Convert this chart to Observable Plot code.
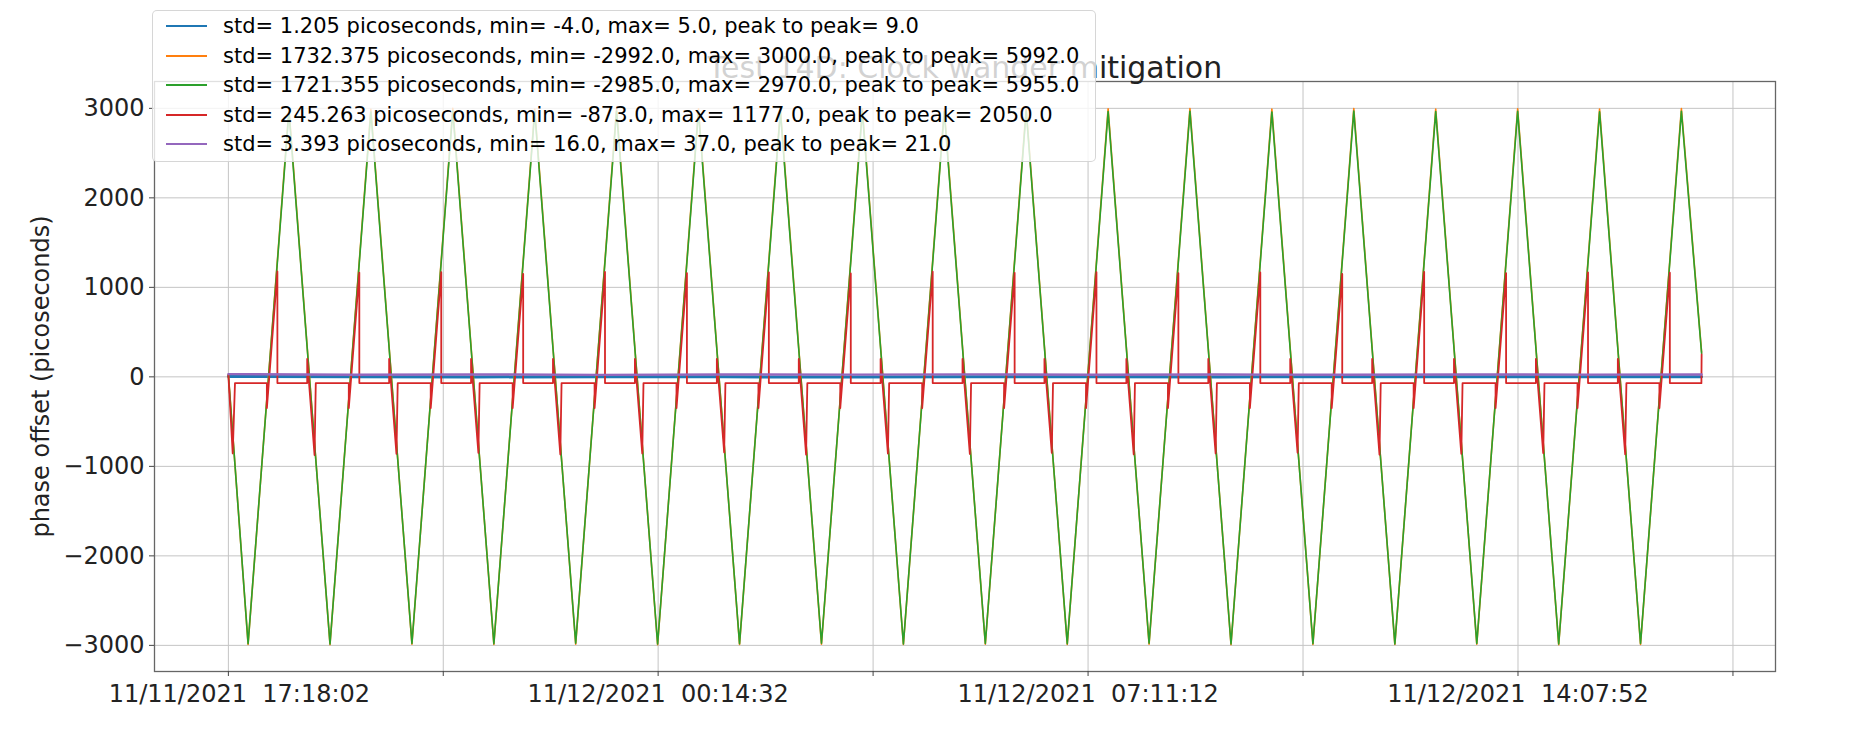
<!DOCTYPE html>
<html>
<head>
<meta charset="utf-8">
<script src="https://cdn.jsdelivr.net/npm/d3@7"></script>
<script src="https://cdn.jsdelivr.net/npm/@observablehq/plot@0.6"></script>
<style>
html, body { margin: 0; padding: 0; background: #fff; }
#wrap { position: relative; width: 1858px; height: 743px; font-family: "DejaVu Sans", sans-serif; }
svg text { white-space: pre; }
#legend { position: absolute; left: 152px; top: 10px; width: 944px; height: 152px; box-sizing: border-box;
  background: rgba(255,255,255,0.8); border: 1px solid rgba(204,204,204,0.8); border-radius: 5px; }
.row { position: absolute; left: 0; height: 30px; display: flex; align-items: center; font-size: 21px; color: #000; white-space: pre; }
.sw { display: inline-block; width: 41px; height: 2px; margin-left: 13px; margin-right: 16px; }
</style>
</head>
<body>
<div id="wrap"></div>
<script>
// ---- data (x = minutes since 11/11/2021 17:18:02) ----
const title = "Test 14D: Clock wander mitigation";
const yLabel = "phase offset (picoseconds)";
const yTicks = [-3000, -2000, -1000, 0, 1000, 2000, 3000];
const xMajorTicks = [0, 416.5, 833.17, 1249.83];
const xMajorLabels = ["11/11/2021  17:18:02", "11/12/2021  00:14:32", "11/12/2021  07:11:12", "11/12/2021  14:07:52"];
const xMinorTicks = [208.25, 624.83, 1041.5, 1458.17];

const seriesNames = [
  "std= 1.205 picoseconds, min= -4.0, max= 5.0, peak to peak= 9.0",
  "std= 1732.375 picoseconds, min= -2992.0, max= 3000.0, peak to peak= 5992.0",
  "std= 1721.355 picoseconds, min= -2985.0, max= 2970.0, peak to peak= 5955.0",
  "std= 245.263 picoseconds, min= -873.0, max= 1177.0, peak to peak= 2050.0",
  "std= 3.393 picoseconds, min= 16.0, max= 37.0, peak to peak= 21.0"
];
const seriesColors = ["#1f77b4", "#ff7f0e", "#2ca02c", "#d62728", "#9467bd"];
const seriesWidths = [3, 1.6, 1.6, 1.8, 2.4];

// blue
const blueT = [0, 120, 240, 360, 480, 600, 720, 840, 960, 1080, 1200, 1320, 1427.8];
const blueV = [5, 1, -1, 2, 0, -2, 1, 0, -1, 1, 0, 2, 0];

// green / orange (triangle wave vertices)
const waveT = [0, 19.1, 58.7, 98.5, 138.1, 177.9, 217.5, 257.3, 296.9, 336.6, 376.2, 416.0, 455.6, 495.4, 535.0,
  574.8, 614.4, 654.2, 693.8, 733.6, 773.2, 813.0, 852.6, 892.3, 931.9, 971.7, 1011.3, 1051.1, 1090.7,
  1130.5, 1170.1, 1209.9, 1249.5, 1289.3, 1328.9, 1368.6, 1408.2, 1427.8];
const greenV = [20, -2980, 2965, -2985, 2960, -2978, 2970, -2982, 2962, -2975, 2968, -2985, 2965, -2980, 2958,
  -2976, 2966, -2984, 2962, -2979, 2970, -2981, 2964, -2977, 2967, -2985, 2960, -2980, 2969,
  -2983, 2963, -2978, 2966, -2984, 2961, -2979, 2968, 260];
const orangeV = [30, -2990, 2995, -2992, 2990, -2988, 3000, -2990, 2992, -2986, 2998, -2992, 2994, -2989, 2990,
  -2987, 2996, -2991, 2993, -2988, 3000, -2990, 2994, -2987, 2997, -2992, 2991, -2989, 2999,
  -2991, 2993, -2988, 2996, -2992, 2992, -2989, 2998, 275];

// red
const redT = [
  0, 4.2, 6.4,
  37.3, 37.3, 47.5, 47.5, 76.4, 76.4, 83.5, 84.7,
  116.7, 116.7, 126.9, 126.9, 155.8, 155.8, 162.9, 164.1,
  196.1, 196.1, 206.3, 206.3, 235.2, 235.2, 242.3, 243.5,
  275.5, 275.5, 285.7, 285.7, 314.6, 314.6, 321.7, 322.9,
  354.9, 354.9, 365.0, 365.0, 394.0, 394.0, 401.1, 402.3,
  434.3, 434.3, 444.4, 444.4, 473.4, 473.4, 480.5, 481.7,
  513.7, 513.7, 523.8, 523.8, 552.8, 552.8, 559.9, 561.1,
  593.0, 593.0, 603.2, 603.2, 632.1, 632.1, 639.2, 640.4,
  672.4, 672.4, 682.6, 682.6, 711.5, 711.5, 718.6, 719.8,
  751.8, 751.8, 762.0, 762.0, 790.9, 790.9, 798.0, 799.2,
  831.2, 831.2, 841.3, 841.3, 870.3, 870.3, 877.4, 878.6,
  910.6, 910.6, 920.7, 920.7, 949.7, 949.7, 956.8, 958.0,
  990.0, 990.0, 1000.1, 1000.1, 1029.1, 1029.1, 1036.2, 1037.4,
  1069.3, 1069.3, 1079.5, 1079.5, 1108.5, 1108.5, 1115.6, 1116.8,
  1148.7, 1148.7, 1158.9, 1158.9, 1187.8, 1187.8, 1194.9, 1196.1,
  1228.1, 1228.1, 1238.3, 1238.3, 1267.2, 1267.2, 1274.3, 1275.5,
  1307.5, 1307.5, 1317.7, 1317.7, 1346.6, 1346.6, 1353.7, 1354.9,
  1386.9, 1386.9, 1397.0, 1397.0, 1427.6, 1427.8
];
const redV = [
  20, -855, -70,
  -70, -350, 1177, -70, -70, 200, -873, -70,
  -70, -350, 1165, -70, -70, 200, -860, -70,
  -70, -350, 1170, -70, -70, 200, -850, -70,
  -70, -350, 1150, -70, -70, 200, -868, -70,
  -70, -350, 1172, -70, -70, 200, -855, -70,
  -70, -350, 1160, -70, -70, 200, -845, -70,
  -70, -350, 1168, -70, -70, 200, -870, -70,
  -70, -350, 1155, -70, -70, 200, -858, -70,
  -70, -350, 1175, -70, -70, 200, -862, -70,
  -70, -350, 1162, -70, -70, 200, -850, -70,
  -70, -350, 1170, -70, -70, 200, -866, -70,
  -70, -350, 1158, -70, -70, 200, -855, -70,
  -70, -350, 1166, -70, -70, 200, -848, -70,
  -70, -350, 1150, -70, -70, 200, -870, -70,
  -70, -350, 1172, -70, -70, 200, -860, -70,
  -70, -350, 1160, -70, -70, 200, -852, -70,
  -70, -350, 1168, -70, -70, 200, -865, -70,
  -70, -350, 1164, -70, -70, 250
];

// purple
const purpleT = [0, 120, 240, 360, 480, 600, 720, 840, 960, 1080, 1200, 1320, 1427.8];
const purpleV = [30, 24, 27, 22, 26, 25, 28, 23, 26, 24, 27, 25, 26];

// ---- build ----
const zip = (T, V) => T.map((t, i) => ({t, v: V[i]}));
const series = [zip(blueT, blueV), zip(waveT, orangeV), zip(waveT, greenV), zip(redT, redV), zip(purpleT, purpleV)];
const labelMap = new Map(xMajorTicks.map((t, i) => [t, xMajorLabels[i]]));
const allXTicks = [...xMajorTicks, ...xMinorTicks].sort((a, b) => a - b);

const chart = Plot.plot({
  width: 1858,
  height: 743,
  marginTop: 81,
  marginBottom: 72,
  marginLeft: 154,
  marginRight: 83,
  x: {domain: [-71.6, 1499.4]},
  y: {domain: [-3292, 3300]},
  style: {fontFamily: '"DejaVu Sans", sans-serif', background: "#fff", color: "#222"},
  marks: [
    Plot.gridX(allXTicks, {stroke: "#c4c4c4", strokeOpacity: 1, strokeWidth: 1}),
    Plot.gridY(yTicks, {stroke: "#c4c4c4", strokeOpacity: 1, strokeWidth: 1}),
    ...series.map((d, i) => Plot.line(d, {x: "t", y: "v", stroke: seriesColors[i], strokeWidth: seriesWidths[i]})),
    Plot.frame({stroke: "#666", strokeWidth: 1.3}),
    Plot.axisY(yTicks, {tickSize: 5, tickPadding: 5, fontSize: 24, tickFormat: d3.format("d"), label: null, stroke: "#444"}),
    Plot.axisX(allXTicks, {tickSize: 5, tickFormat: () => "", label: null, stroke: "#444"}),
    Plot.axisX(xMajorTicks.slice(0, 1), {tickSize: 0, tickPadding: 13, fontSize: 24, dx: 11, tickFormat: d => labelMap.get(d), label: null}),
    Plot.axisX(xMajorTicks.slice(1), {tickSize: 0, tickPadding: 13, fontSize: 24, tickFormat: d => labelMap.get(d), label: null}),
    Plot.text([yLabel], {frameAnchor: "left", textAnchor: "middle", lineAnchor: "middle", dx: -113, rotate: -90, fontSize: 24, fill: "#222"}),
    Plot.text([title], {frameAnchor: "top", lineAnchor: "bottom", dy: -4, fontSize: 30, fill: "#222"})
  ]
});

const wrap = document.getElementById("wrap");
wrap.appendChild(chart);

const legend = document.createElement("div");
legend.id = "legend";
const rowCenters = [15, 44.5, 74, 103.5, 133];
seriesNames.forEach((name, i) => {
  const row = document.createElement("div");
  row.className = "row";
  row.style.top = (rowCenters[i] - 15) + "px";
  const sw = document.createElement("span");
  sw.className = "sw";
  sw.style.background = seriesColors[i];
  const tx = document.createElement("span");
  tx.textContent = name;
  row.appendChild(sw);
  row.appendChild(tx);
  legend.appendChild(row);
});
wrap.appendChild(legend);
</script>
</body>
</html>
